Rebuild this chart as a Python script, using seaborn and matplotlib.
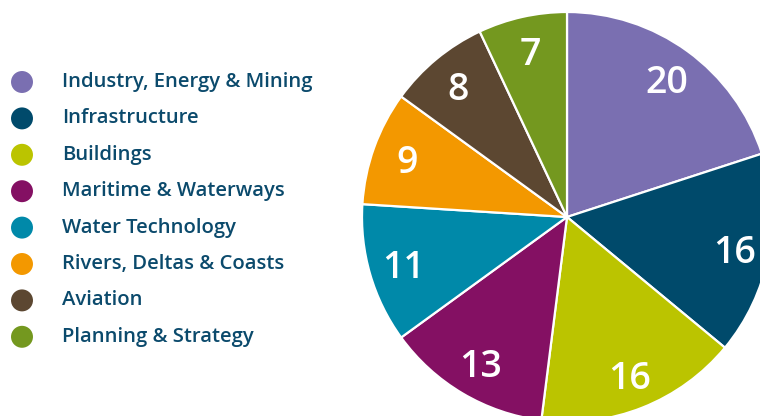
import numpy as np
import matplotlib
matplotlib.use("Agg")
import matplotlib.pyplot as plt
import matplotlib.transforms as mtransforms
import seaborn as sns

sectors = ["Industry, Energy & Mining", "Infrastructure", "Buildings",
           "Maritime & Waterways", "Water Technology", "Rivers, Deltas & Coasts",
           "Aviation", "Planning & Strategy"]
shares = [20, 16, 16, 13, 11, 9, 8, 7]
colors = ["#7a6fb1", "#004a6b", "#bbc400", "#841063", "#0089a9",
          "#f39800", "#5c4731", "#74981f"]

sns.set_theme(style="white")
plt.rcParams["font.family"] = ["Open Sans", "DejaVu Sans"]

W, H = 760, 416
fig = plt.figure(figsize=(W / 100, H / 100), dpi=100)
fig.patch.set_facecolor("white")

# pie axes: centre (567, 217) px, radius 205 px
cx, cy, r = 567, 217, 205
ax = fig.add_axes([(cx - r) / W, (H - cy - r) / H, 2 * r / W, 2 * r / H])
wedges, texts = ax.pie(shares, colors=sns.color_palette(colors), startangle=90,
                       counterclock=False, labels=[str(v) for v in shares],
                       labeldistance=0.83,
                       wedgeprops=dict(edgecolor="white", linewidth=1.6))
# nudge the numbers down a little so the digits sit centred
shift = mtransforms.offset_copy(ax.transData, fig=fig, x=0, y=-4, units="dots")
for t in texts:
    t.set_transform(shift)
    t.set_color("white")
    t.set_fontsize(27)
    t.set_fontweight("semibold")
    t.set_ha("center")
    t.set_va("center")
ax.set_xlim(-1, 1)
ax.set_ylim(-1, 1)
ax.set_aspect("equal")
ax.axis("off")

# legend drawn as dots + labels
lax = fig.add_axes([0, 0, 380 / W, 1])
rows = np.arange(len(sectors))
lax.scatter(np.full(len(rows), 22), rows, s=250, c=colors, linewidths=0)
for i, name in enumerate(sectors):
    lax.text(62, i, name, color="#0b4a6c", fontsize=14.6, fontweight="semibold",
             va="center", ha="left")
lax.set_xlim(0, 380)
lax.set_ylim((416 - 82) / 36.4, -82 / 36.4)
lax.axis("off")

fig.savefig("out.png", dpi=100, facecolor="white")
